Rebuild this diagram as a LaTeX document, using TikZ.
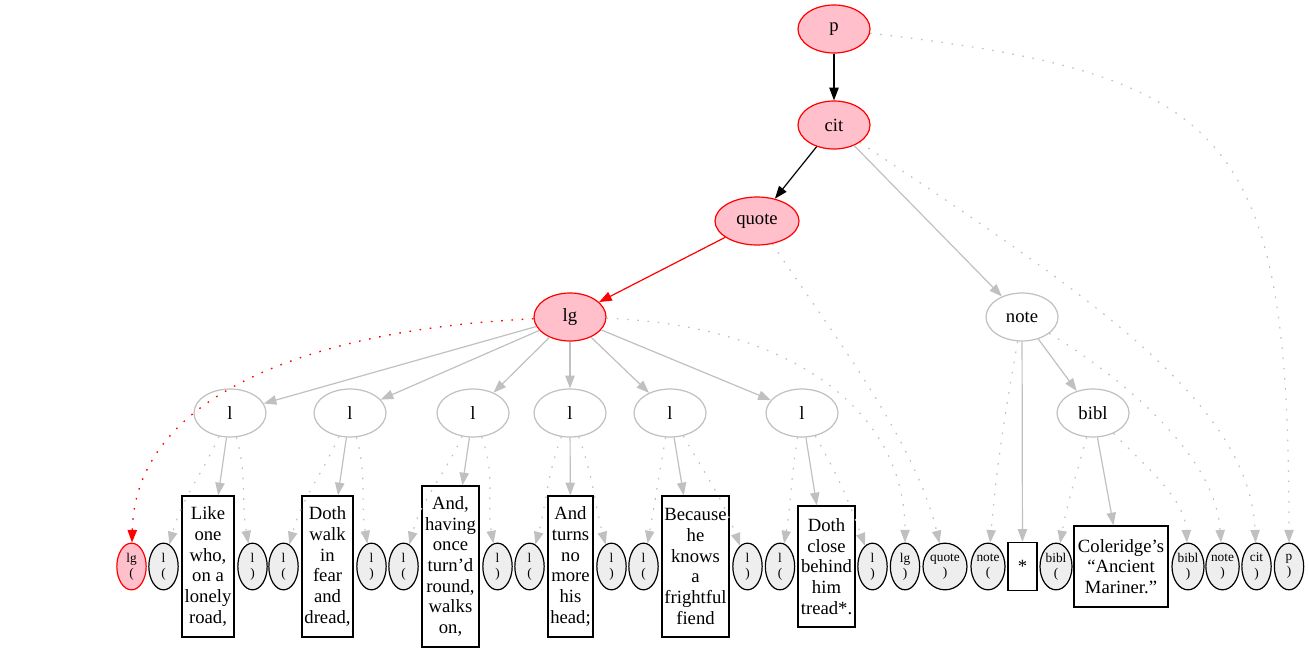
\documentclass[tikz,border=0pt]{standalone}
\usepackage{fontspec}
\setmainfont{Liberation Serif}
\usetikzlibrary{shapes.geometric,arrows.meta}
\definecolor{pinkc}{RGB}{255,192,203}
\definecolor{edgegray}{RGB}{192,192,192}
\definecolor{leafgray}{RGB}{238,238,238}
\begin{document}
\begin{tikzpicture}[x=0.75pt,y=-0.75pt,
  mainell/.style={ellipse, minimum width=54pt, minimum height=36pt, inner sep=0pt, line width=0.9pt, font=\fontsize{14}{16}\selectfont},
  pinknode/.style={mainell, draw=red, fill=pinkc},
  graynode/.style={mainell, draw=edgegray, fill=white},
  leaf/.style={ellipse, draw=black, fill=leafgray, inner sep=0pt, minimum height=35pt, minimum width=22pt, line width=0.9pt, align=center, font=\fontsize{10}{11.5}\selectfont},
  leafpink/.style={leaf, draw=red, fill=pinkc},
  txtbox/.style={rectangle, draw=black, fill=white, inner sep=0pt, line width=1pt, align=center, font=\fontsize{14}{15.5}\selectfont},
  tip/.style={-{Triangle[length=9.5pt,width=7pt]}},
  blkedge/.style={draw=black, line width=0.9pt, tip},
  rededge/.style={draw=red, line width=0.9pt, tip},
  gedge/.style={draw=edgegray, line width=0.9pt, tip},
  gdot/.style={draw=edgegray, line width=0.9pt, dash pattern=on 1.2pt off 6.5pt, tip},
  rdot/.style={draw=red, line width=1pt, dash pattern=on 1.2pt off 6.5pt, tip}
]
\useasboundingbox (0,0) rectangle (1309,653);

% upper nodes
\node[pinknode] (p) at (834,29) {p};
\node[pinknode] (cit) at (834,125) {cit};
\node[pinknode, minimum width=63pt] (quote) at (757,221) {quote};
\node[pinknode] (lg) at (570,317) {lg};
\node[graynode] (note) at (1022,317) {note};
\node[graynode] (l1) at (230,413) {l};
\node[graynode] (l2) at (350,413) {l};
\node[graynode] (l3) at (473,413) {l};
\node[graynode] (l4) at (570,413) {l};
\node[graynode] (l5) at (670,413) {l};
\node[graynode] (l6) at (802,413) {l};
\node[graynode] (bibl) at (1093,413) {bibl};

% bottom row
\node[leafpink] (lgo) at (131.5,566.5) {lg\\(};
\node[leaf] (l1o) at (163.5,566.5) {l\\(};
\node[txtbox, minimum width=39pt, minimum height=105.75pt] (b1) at (208,566.5) {Like\\one\\who,\\on a\\lonely\\road,};
\node[leaf] (l1c) at (252.5,566.5) {l\\)};
\node[leaf] (l2o) at (283.5,566.5) {l\\(};
\node[txtbox, minimum width=38.25pt, minimum height=105.75pt] (b2) at (327.5,566.5) {Doth\\walk\\in\\fear\\and\\dread,};
\node[leaf] (l2c) at (371.5,566.5) {l\\)};
\node[leaf] (l3o) at (403.5,566.5) {l\\(};
\node[txtbox, minimum width=42.75pt, minimum height=120.75pt] (b3) at (450.5,566.5) {And,\\having\\once\\turn’d\\round,\\walks\\on,};
\node[leaf] (l3c) at (497.5,566.5) {l\\)};
\node[leaf] (l4o) at (529.5,566.5) {l\\(};
\node[txtbox, minimum width=33.75pt, minimum height=105.75pt] (b4) at (570.5,566.5) {And\\turns\\no\\more\\his\\head;};
\node[leaf] (l4c) at (611.5,566.5) {l\\)};
\node[leaf] (l5o) at (643.5,566.5) {l\\(};
\node[txtbox, minimum width=50.25pt, minimum height=105.75pt] (b5) at (695.5,566.5) {Because\\he\\knows\\a\\frightful\\fiend};
\node[leaf] (l5c) at (747.5,566.5) {l\\)};
\node[leaf] (l6o) at (780,566.5) {l\\(};
\node[txtbox, minimum width=42.75pt, minimum height=90.75pt] (b6) at (826.5,566.5) {Doth\\close\\behind\\him\\tread*.};
\node[leaf] (l6c) at (872.5,566.5) {l\\)};
\node[leaf] (lgc) at (905,566.5) {lg\\)};
\node[leaf, minimum width=33pt] (quotec) at (945,566.5) {quote\\)};
\node[leaf, minimum width=25.5pt] (noteo) at (988,566.5) {note\\(};
\node[txtbox, minimum width=21.75pt, minimum height=36pt] (star) at (1022.5,566.5) {*};
\node[leaf, minimum width=24pt] (biblo) at (1056,566.5) {bibl\\(};
\node[txtbox, minimum width=70.5pt, minimum height=60.75pt] (col) at (1121,566.5) {Coleridge’s\\“Ancient\\Mariner.”};
\node[leaf, minimum width=24pt] (biblc) at (1188,566.5) {bibl\\)};
\node[leaf, minimum width=25pt] (notec) at (1222.5,566.5) {note\\)};
\node[leaf] (citc) at (1256.5,566.5) {cit\\)};
\node[leaf] (pc) at (1289,566.5) {p\\)};

% solid edges
\draw[blkedge] (p) -- (cit);
\draw[blkedge] (cit) -- (quote);
\draw[rededge] (quote) -- (lg);
\draw[gedge] (cit) -- (note);
\foreach \i in {1,...,6} {
  \draw[gedge] (lg) -- (l\i);
  \draw[gedge] (l\i) -- (b\i);
}
\draw[gedge] (note) -- (star);
\draw[gedge] (note) -- (bibl);
\draw[gedge] (bibl) -- (col);

% dotted edges
\draw[rdot] (lg) .. controls (300,330) and (135,400) .. (lgo);
\draw[gdot] (l1) to[out=-115,in=75] (l1o);
\draw[gdot] (l1) to[out=-75,in=100] (l1c);
\draw[gdot] (l2) to[out=-115,in=75] (l2o);
\draw[gdot] (l2) to[out=-75,in=100] (l2c);
\draw[gdot] (l3) to[out=-115,in=75] (l3o);
\draw[gdot] (l3) to[out=-70,in=100] (l3c);
\draw[gdot] (l4) to[out=-110,in=75] (l4o);
\draw[gdot] (l4) to[out=-70,in=105] (l4c);
\draw[gdot] (l5) to[out=-100,in=80] (l5o);
\draw[gdot] (l5) to[out=-60,in=110] (l5c);
\draw[gdot] (l6) to[out=-100,in=80] (l6o);
\draw[gdot] (l6) to[out=-60,in=110] (l6c);
\draw[gdot] (lg) .. controls (790,325) and (905,410) .. (lgc);
\draw[gdot] (quote) .. controls (830,330) and (915,440) .. (quotec);
\draw[gdot] (note) to[out=-100,in=85] (noteo);
\draw[gdot] (bibl) to[out=-105,in=80] (biblo);
\draw[gdot] (bibl) .. controls (1150,470) and (1185,500) .. (biblc);
\draw[gdot] (note) .. controls (1110,370) and (1215,450) .. (notec);
\draw[gdot] (cit) .. controls (1080,290) and (1250,400) .. (citc);
\draw[gdot] (p) .. controls (1230,75) and (1289,130) .. (pc);
\end{tikzpicture}
\end{document}
